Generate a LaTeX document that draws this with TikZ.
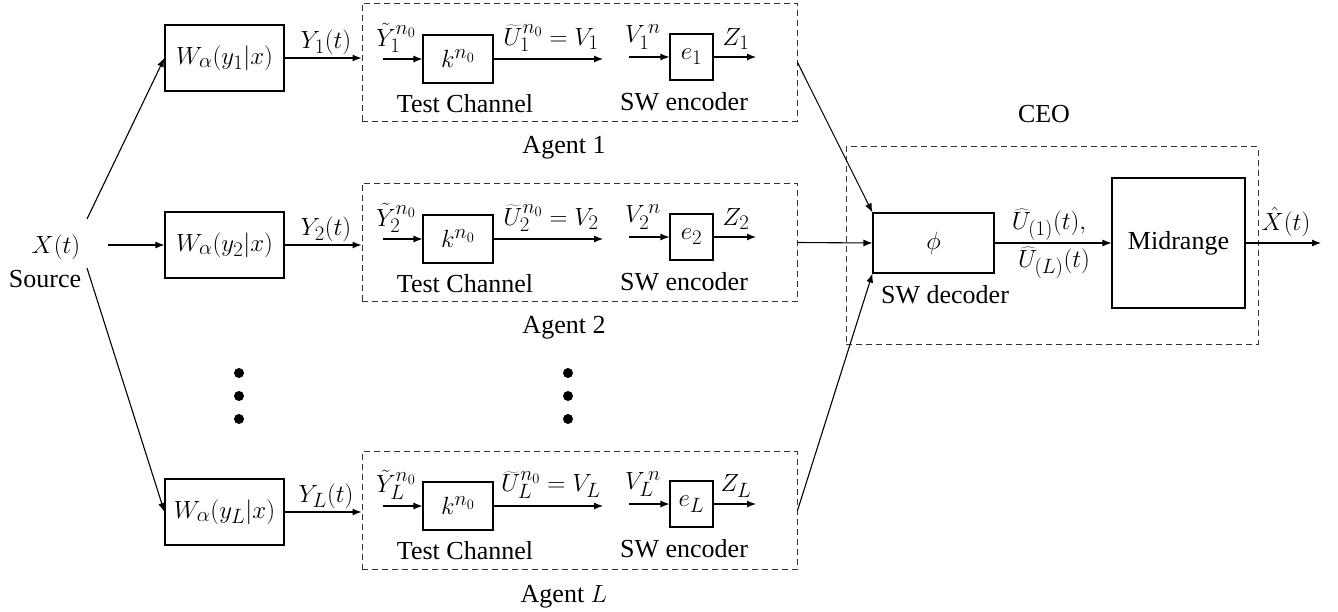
\documentclass[tikz,border=0pt]{standalone}
\usepackage{fontspec}
\setmainfont{Liberation Serif}
\usetikzlibrary{arrows.meta}
\begin{document}
\begin{tikzpicture}[x=1pt,y=-1pt,
  every node/.style={font=\fontsize{26}{30}\selectfont, inner sep=0pt},
  mth/.style={font=\fontsize{28}{32}\selectfont},
  blk/.style={draw, line width=1.1pt, fill=white},
  dbox/.style={draw=black!80, line width=1pt, dash pattern=on 6pt off 4pt},
  arr/.style={line width=1.1pt, -{Latex[length=9pt,width=7pt]}},
  ln/.style={line width=1.1pt},
  dot/.style={circle, fill=black, minimum size=10pt}]
\useasboundingbox (0,0) rectangle (1338,612);

% source
\node[mth] (xt) at (56,247) {$X(t)$};
\node (srclbl) at (45,279) {Source};
\coordinate (su) at (87,219);
\coordinate (sm) at (108,245);
\coordinate (sd) at (87,268);

% rows
\foreach \i/\yw/\yk/\ya in {1/58/59/62.5, 2/245/239/242.5, L/512/506/510.5}{
  \node[blk, mth, minimum width=119pt, minimum height=66pt] (W\i) at (224.5,\yw) {$W_\alpha(y_{\i}|x)$};
  \node[dbox, minimum width=435pt, minimum height=118pt] (A\i) at (579.5,\ya) {};
  \draw[arr] (W\i.east) -- (W\i.east -| A\i.west);
  \node[mth] (Yl\i) at (326,\yw-16) {$Y_{\i}(t)$};
  % test channel
  \node[blk, mth, minimum width=70pt, minimum height=48pt] (k\i) at (458,\yk) {$k^{n_0}$};
  \coordinate (yin\i) at (383,\yk);
  \draw[arr] (yin\i) -- (k\i.west);
  \node[mth] (yt\i) at (396,\yk-21) {$\tilde{Y}_{\i}^{n_0}$};
  \coordinate (kout\i) at (603,\yk);
  \draw[arr] (k\i.east) -- (kout\i);
  \node[mth] (ut\i) at (551,\yk-21) {$\widetilde{U}_{\i}^{n_0}=V_{\i}$};
  \node (tc\i) at (465,\yk+45) {Test Channel};
  % SW encoder
  \node[blk, mth, minimum width=43pt, minimum height=46pt] (e\i) at (691.5,\yk-2) {$e_{\i}$};
  \coordinate (vin\i) at (629,\yk-2);
  \draw[arr] (vin\i) -- (e\i.west);
  \node[mth] (vl\i) at (643,\yk-22) {$V_{\i}^{\,n}$};
  \coordinate (zout\i) at (756,\yk-2);
  \draw[arr] (e\i.east) -- (zout\i);
  \node[mth] (zl\i) at (736,\yk-20) {$Z_{\i}$};
  \node (sw\i) at (684,\yk+43) {SW encoder};
}
\node (ag1) at (564,148) {Agent 1};
\node (ag2) at (564,328) {Agent 2};
\node (agL) at (564,597) {Agent $L$};

\draw[ln, -{Latex[length=9pt,width=7pt]}] (su) -- (W1.west);
\draw[arr] (sm) -- (W2.west);
\draw[arr] (sd) -- (WL.west);

% dots
\foreach \yy [count=\n] in {373,396,419}{
  \node[dot] (dl\n) at (239,\yy) {};
  \node[dot] (dr\n) at (568,\yy) {};
}

% CEO
\node[dbox, minimum width=412pt, minimum height=197pt] (ceo) at (1052,245.5) {};
\node (ceolbl) at (1044,114) {CEO};
\node[blk, mth, minimum width=121pt, minimum height=60pt] (phi) at (933.5,243) {$\phi$};
\node (swd) at (945,295) {SW decoder};
\node[blk, minimum width=133pt, minimum height=130pt] (mid) at (1178.5,243) {Midrange};
\draw[arr] (A1.east) -- (phi.north west);
\draw[arr] (A2.east) -- (phi.west);
\draw[arr] (AL.east) -- (phi.south west);
\draw[arr] (phi.east) -- (mid.west);
\node[mth] (u1) at (1049,225) {$\widehat{U}_{(1)}(t),$};
\node[mth] (uL) at (1054,263) {$\widehat{U}_{(L)}(t)$};
\coordinate (xout) at (1321,243);
\draw[arr] (mid.east) -- (xout);
\node[mth] (xh) at (1286,222) {$\hat{X}(t)$};
\end{tikzpicture}
\end{document}
